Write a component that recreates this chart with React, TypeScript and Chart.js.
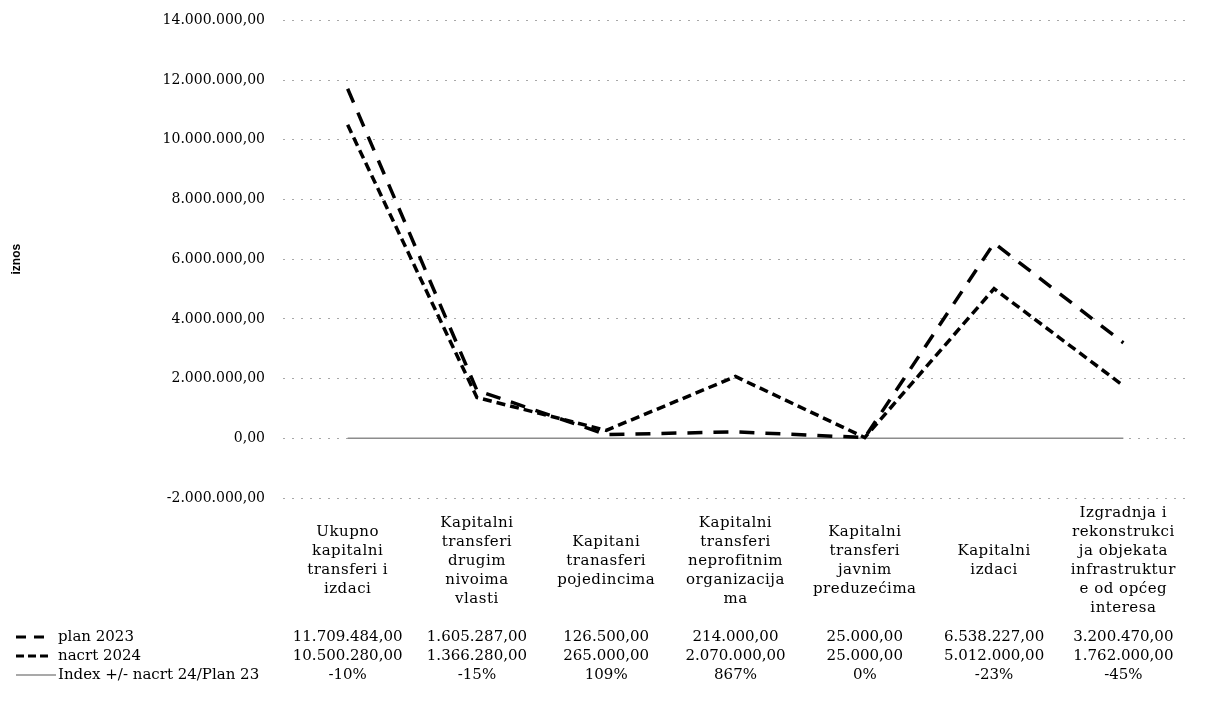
import React, { useEffect, useRef } from "react";
import { Chart, registerables } from "chart.js";

Chart.register(...registerables);

const categories: string[][] = [
  ["Ukupno", "kapitalni", "transferi i", "izdaci"],
  ["Kapitalni", "transferi", "drugim", "nivoima", "vlasti"],
  ["Kapitani", "tranasferi", "pojedincima"],
  ["Kapitalni", "transferi", "neprofitnim", "organizacija", "ma"],
  ["Kapitalni", "transferi", "javnim", "preduzećima"],
  ["Kapitalni", "izdaci"],
  ["Izgradnja i", "rekonstrukci", "ja objekata", "infrastruktur", "e od općeg", "interesa"],
];

const plan2023: number[] = [11709484, 1605287, 126500, 214000, 25000, 6538227, 3200470];
const nacrt2024: number[] = [10500280, 1366280, 265000, 2070000, 25000, 5012000, 1762000];
const indexValues: number[] = [-0.1, -0.15, 1.09, 8.67, 0, -0.23, -0.45];
const indexLabels: string[] = ["-10%", "-15%", "109%", "867%", "0%", "-23%", "-45%"];

const seriesNames: string[] = ["plan 2023", "nacrt 2024", "Index +/- nacrt 24/Plan 23"];

const yMin = -2000000;
const yMax = 14000000;
const yStep = 2000000;

function fmt(n: number): string {
  const neg = n < 0;
  const [intPart, dec] = Math.abs(n).toFixed(2).split(".");
  const withDots = intPart.replace(/\B(?=(\d{3})+(?!\d))/g, ".");
  return (neg ? "-" : "") + withDots + "," + dec;
}

const SERIF = "'DejaVu Serif', serif";
// canvas y = page y + 6 (container shifted up by 14px)
const OFF = 6;

const tablePlugin = {
  id: "dataTable",
  afterDraw(chart: any) {
    const ctx = chart.ctx as any;
    const x = chart.scales.x;
    ctx.save();
    ctx.fillStyle = "#000";
    ctx.textAlign = "center";
    ctx.textBaseline = "middle";
    ctx.font = `15px ${SERIF}`;
    ctx.letterSpacing = "0.5px";
    const lineH = 19;
    const centerY = 561 + OFF;
    categories.forEach((lines, i) => {
      const cx = x.getPixelForValue(i);
      const startY = centerY - ((lines.length - 1) * lineH) / 2;
      lines.forEach((ln, j) => ctx.fillText(ln, cx, startY + j * lineH));
    });
    ctx.letterSpacing = "0px";
    const rowY = [637 + OFF, 656 + OFF, 675 + OFF];
    const rows: string[][] = [plan2023.map(fmt), nacrt2024.map(fmt), indexLabels];
    rows.forEach((row, r) => {
      row.forEach((txt, i) => {
        const cx = x.getPixelForValue(i);
        ctx.fillText(txt, cx, rowY[r]);
      });
    });
    // legend keys
    ctx.textAlign = "left";
    ctx.font = `15px ${SERIF}`;
    seriesNames.forEach((name, r) => {
      const y = rowY[r];
      ctx.beginPath();
      ctx.strokeStyle = r === 2 ? "#8c8c8c" : "#000";
      ctx.lineWidth = r === 2 ? 1.5 : 3;
      if (r === 0) ctx.setLineDash([10, 8]);
      else if (r === 1) ctx.setLineDash([8, 4]);
      else ctx.setLineDash([]);
      ctx.moveTo(8, y);
      ctx.lineTo(r === 2 ? 48 : 42, y);
      ctx.stroke();
      ctx.setLineDash([]);
      ctx.fillText(name, 50, y);
    });
    ctx.restore();
  },
};

export default function App() {
  const ref = useRef<HTMLCanvasElement | null>(null);
  useEffect(() => {
    if (!ref.current) return;
    const chart = new Chart(ref.current, {
      type: "line",
      data: {
        labels: categories.map((c) => c.join(" ")),
        datasets: [
          {
            label: seriesNames[0],
            data: plan2023,
            borderColor: "#000",
            borderWidth: 3.5,
            borderDash: [15, 11],
            pointRadius: 0,
            tension: 0,
            fill: false,
          },
          {
            label: seriesNames[1],
            data: nacrt2024,
            borderColor: "#000",
            borderWidth: 3.5,
            borderDash: [9, 5],
            pointRadius: 0,
            tension: 0,
            fill: false,
          },
          {
            label: seriesNames[2],
            data: indexValues,
            borderColor: "#8c8c8c",
            borderWidth: 1.5,
            pointRadius: 0,
            tension: 0,
            fill: false,
          },
        ],
      },
      options: {
        animation: false,
        responsive: true,
        maintainAspectRatio: false,
        layout: { padding: { top: 11, right: 16, bottom: 200, left: 0 } },
        plugins: {
          legend: { display: false },
          tooltip: { enabled: false },
        },
        scales: {
          x: {
            display: false,
            offset: true,
          },
          y: {
            min: yMin,
            max: yMax,
            afterFit: (s: any) => {
              s.width = 275;
            },
            ticks: {
              stepSize: yStep,
              padding: 18,
              color: "#000",
              font: { family: SERIF, size: 14 },
              callback: (v: any) => fmt(Number(v)),
            },
            grid: {
              color: "#a8a8a8",
              lineWidth: 1,
              drawTicks: false,
            },
            border: { display: false, dash: [2, 7] },
            title: {
              display: true,
              text: "iznos",
              color: "#000",
              font: { family: "'Liberation Sans', sans-serif", size: 12, weight: "bold" },
              padding: { top: 1, bottom: 0 },
            },
          },
        },
      },
      plugins: [tablePlugin],
    });
    return () => chart.destroy();
  }, []);
  return (
    <div style={{ width: 1196, height: 704, marginTop: -14, position: "relative" }}>
      <canvas ref={ref} />
    </div>
  );
}
